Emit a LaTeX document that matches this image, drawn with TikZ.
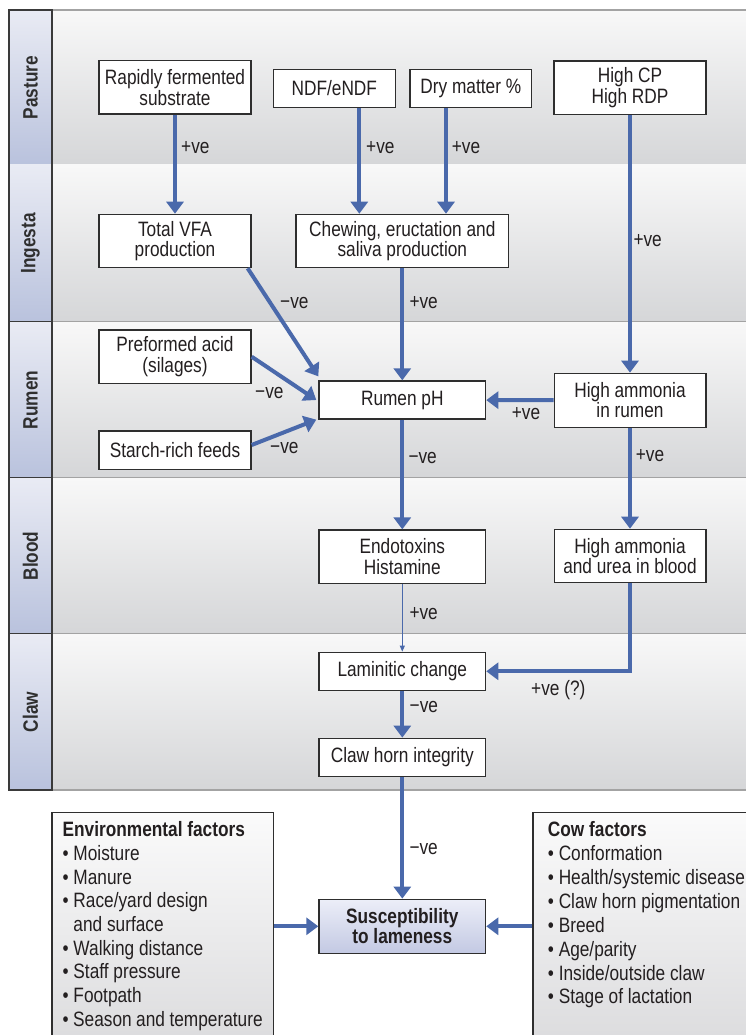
\documentclass[tikz,border=0pt]{standalone}
\usepackage{fontspec}
\setmainfont{Liberation Sans}[FakeStretch=0.83]
\usetikzlibrary{arrows.meta}
\definecolor{arrblue}{HTML}{4A69AB}
\definecolor{txt}{HTML}{231F20}
\definecolor{boxline}{HTML}{2E2E2E}
\definecolor{bandtop}{HTML}{F8F8F8}
\definecolor{bandbot}{HTML}{D5D6D8}
\definecolor{bandline}{HTML}{A3A3A3}
\definecolor{tabtop}{HTML}{E9EBF4}
\definecolor{tabbot}{HTML}{B9C2DD}
\definecolor{tabline}{HTML}{3A3A3A}
\definecolor{tabtext}{HTML}{2F2F2F}
\definecolor{sustop}{HTML}{ECEEF8}
\definecolor{susbot}{HTML}{C3C9E3}
\definecolor{factop}{HTML}{FBFBFB}
\definecolor{facbot}{HTML}{DCDCDE}
\begin{document}
\begin{tikzpicture}[x=1pt,y=-1pt,
  every node/.style={text=txt},
  font=\fontsize{20.8}{20.5}\selectfont,
  box/.style={draw=boxline, line width=1.3pt, fill=white, inner sep=0pt, align=center},
  facbox/.style={draw=boxline, line width=1.3pt, top color=factop, bottom color=facbot, inner ysep=0pt},
  arr/.style={draw=arrblue, line width=4pt, -{Triangle[width=17pt,length=12pt]}},
  thinarr/.style={draw=arrblue, line width=1pt, -{Triangle[width=5pt,length=6pt]}},
  lbl/.style={anchor=base west, inner sep=0pt},
  tablbl/.style={rotate=90, inner sep=0pt, text=tabtext, font=\fontsize{20.8}{20}\selectfont\bfseries},
  bandshade/.style={top color=bandtop, bottom color=bandbot},
  tabshade/.style={top color=tabtop, bottom color=tabbot}
]
\useasboundingbox (0,0) rectangle (745,1035);
\fill[white] (0,0) rectangle (745,1035);

% bands
\foreach \t/\b/\name in {10/165/Pasture, 165/322/Ingesta, 322/478/Rumen, 478/634/Blood, 634/790/Claw} {
  \shade[bandshade] (52,\t) rectangle (760,\b);
  \draw[bandline, line width=1.3pt] (52,\b) -- (760,\b);
  \shade[tabshade] (9,\t) rectangle (52,\b);
  \draw[tabline, line width=1.3pt] (9,\b) -- (52,\b);
  \node[tablbl] (t\name) at (30.5,{(\t+\b)/2}) {\name};
}
\draw[bandline, line width=1.3pt] (52,10) -- (760,10);
\draw[tabline, line width=1.3pt] (9,10) rectangle (52,790);

% nodes
\node[box, minimum width=152, minimum height=53.3] (rfs) at (175,87.5) {Rapidly fermented\\substrate};
\node[box, minimum width=122, minimum height=38] (ndf) at (334.3,88.3) {NDF/eNDF};
\node[box, minimum width=121.7, minimum height=38] (dm) at (470.8,88.3) {Dry matter \%};
\node[box, minimum width=152, minimum height=53.3] (cp) at (630,87.7) {High CP\\High RDP};
\node[box, minimum width=152, minimum height=53.3] (vfa) at (175,241) {Total VFA\\production};
\node[box, minimum width=212.7, minimum height=53.3] (chew) at (402.3,241) {Chewing, eructation and\\saliva production};
\node[box, minimum width=152, minimum height=53.3] (pre) at (175,356.7) {Preformed acid\\(silages)};
\node[box, minimum width=152, minimum height=38.3] (starch) at (175,450) {Starch-rich feeds};
\node[box, minimum width=166.7, minimum height=38] (ph) at (402.3,400) {Rumen pH};
\node[box, minimum width=151.7, minimum height=54] (amr) at (630,400.3) {High ammonia\\in rumen};
\node[box, minimum width=166.7, minimum height=53.3] (endo) at (402.3,556.7) {Endotoxins\\Histamine};
\node[box, minimum width=151.7, minimum height=53.3] (amb) at (630,556) {High ammonia\\and urea in blood};
\node[box, minimum width=166.7, minimum height=38] (lam) at (402.3,671.3) {Laminitic change};
\node[box, minimum width=166.7, minimum height=38.4] (claw) at (402.3,757.5) {Claw horn integrity};
\node[box, top color=sustop, bottom color=susbot, minimum width=166.7, minimum height=54, font=\fontsize{20.8}{20}\selectfont\bfseries] (sus) at (402.3,926.3) {Susceptibility\\to lameness};

\node[facbox, anchor=north west, inner xsep=10.7pt] (env) at (51.3,811.7) {\parbox[c][229.2pt][t]{200pt}{\raggedright\fontsize{20.8}{23.7}\selectfont\rule{0pt}{24.3pt}\textbf{Environmental factors}\\
•\ Moisture\\
•\ Manure\\
•\ Race/yard design\\
\phantom{•\ }and surface\\
•\ Walking distance\\
•\ Staff pressure\\
•\ Footpath\\
•\ Season and temperature}};

\node[facbox, anchor=north west, inner xsep=15pt] (cow) at (532.3,811.7) {\parbox[c][229.2pt][t]{197.7pt}{\raggedright\fontsize{20.8}{23.9}\selectfont\rule{0pt}{24.3pt}\textbf{Cow factors}\\
•\ Conformation\\
•\ Health/systemic disease\\
•\ Claw horn pigmentation\\
•\ Breed\\
•\ Age/parity\\
•\ Inside/outside claw\\
•\ Stage of lactation}};

% helper coordinates
\coordinate (ndfo) at ([xshift=25pt]ndf.south);
\coordinate (dmo) at ([xshift=-24.8pt]dm.south);
\coordinate (vfao) at ([xshift=-4pt]vfa.south east);
\coordinate (phtl) at ([yshift=4pt]ph.north west);
\coordinate (phl) at ([xshift=-2pt]ph.west);
\coordinate (phbl) at ([xshift=-2pt]ph.south west);
\coordinate (sto) at ([yshift=5pt]starch.east);

% connectors
\draw[arr] (rfs) -- (vfa);
\draw[arr] (ndfo) -- (ndfo |- chew.north);
\draw[arr] (dmo) -- (dmo |- chew.north);
\draw[arr] (cp) -- (amr);
\draw[arr] (vfao) -- (phtl);
\draw[arr] (pre.east) -- (phl);
\draw[arr] (sto) -- (phbl);
\draw[arr] (amr) -- (ph);
\draw[arr] (chew) -- (ph);
\draw[arr] (ph) -- (endo);
\draw[arr] (amr) -- (amb);
\draw[thinarr] (endo) -- (lam);
\draw[arr] (amb.south) |- (lam.east);
\draw[arr] (lam) -- (claw);
\draw[arr] (claw) -- (sus);
\draw[arr] (env.east |- sus.west) -- (sus.west);
\draw[arr] (cow.west |- sus.east) -- (sus.east);

% labels
\node[lbl] (l1) at (181,153.2) {+ve};
\node[lbl] (l2) at (366,153.2) {+ve};
\node[lbl] (l3) at (451.7,153.2) {+ve};
\node[lbl] (l4) at (633.3,246.5) {+ve};
\node[lbl] (l5) at (280,308.8) {−ve};
\node[lbl] (l6) at (409.3,308.8) {+ve};
\node[lbl] (l7) at (255,398.2) {−ve};
\node[lbl] (l8) at (270,453.2) {−ve};
\node[lbl] (l9) at (511.7,419.2) {+ve};
\node[lbl] (l10) at (408.3,463.2) {−ve};
\node[lbl] (l11) at (635.7,461.5) {+ve};
\node[lbl] (l12) at (409.3,619.2) {+ve};
\node[lbl] (l13) at (531,695.8) {+ve (?)};
\node[lbl] (l14) at (409.5,712.5) {−ve};
\node[lbl] (l15) at (409.3,854.2) {−ve};
\end{tikzpicture}
\end{document}
